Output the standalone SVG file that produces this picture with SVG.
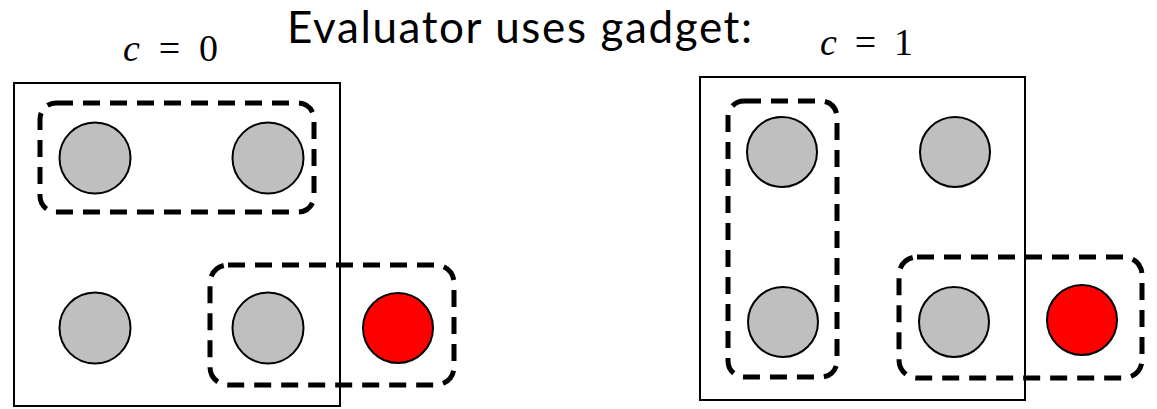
<svg xmlns="http://www.w3.org/2000/svg" width="1157" height="409" viewBox="0 0 1157 409">
<style>
.box{fill:none;stroke:#000;stroke-width:2}
.grp{fill:none;stroke:#000;stroke-width:5;stroke-dasharray:17 10}
.g{fill:#bfbfbf;stroke:#000;stroke-width:2}
.r{fill:#ff0000;stroke:#000;stroke-width:2}
.title{font-family:Lato,"Open Sans","Liberation Sans",sans-serif;font-size:44px;fill:#000}
.math{font-family:"Liberation Serif",serif;font-size:38px;fill:#000}
</style>
<rect width="1157" height="409" fill="#fff"/>
<text class="title" x="287" y="43" textLength="465" lengthAdjust="spacing">Evaluator uses gadget:</text>
<g id="label-c0"><text class="math" x="123" y="61" textLength="95" lengthAdjust="spacing"><tspan font-style="italic">c</tspan> = 0</text></g>
<g id="label-c1"><text class="math" x="820" y="55" textLength="93" lengthAdjust="spacing"><tspan font-style="italic">c</tspan> = 1</text></g>
<g id="left-gadget">
<rect class="box" x="14" y="83" width="326" height="323"/>
<rect class="grp" x="40" y="103" width="274" height="109" rx="16"/>
<rect class="grp" x="210" y="265" width="244" height="120" rx="18"/>
<circle class="g" cx="95" cy="158" r="35.5"/>
<circle class="g" cx="268" cy="158" r="35.5"/>
<circle class="g" cx="95" cy="328" r="35.5"/>
<circle class="g" cx="268" cy="328" r="35.5"/>
<circle class="r" cx="398" cy="328" r="35"/>
</g>
<g id="right-gadget">
<rect class="box" x="700" y="77" width="325" height="323"/>
<rect class="grp" x="728" y="101" width="109" height="276" rx="16"/>
<rect class="grp" x="899" y="257" width="243" height="121" rx="18"/>
<circle class="g" cx="782" cy="152" r="35"/>
<circle class="g" cx="955" cy="152" r="35"/>
<circle class="g" cx="783" cy="322" r="35"/>
<circle class="g" cx="954" cy="322" r="35"/>
<circle class="r" cx="1082" cy="320" r="35"/>
</g>
<g id="connectors"></g>
</svg>
